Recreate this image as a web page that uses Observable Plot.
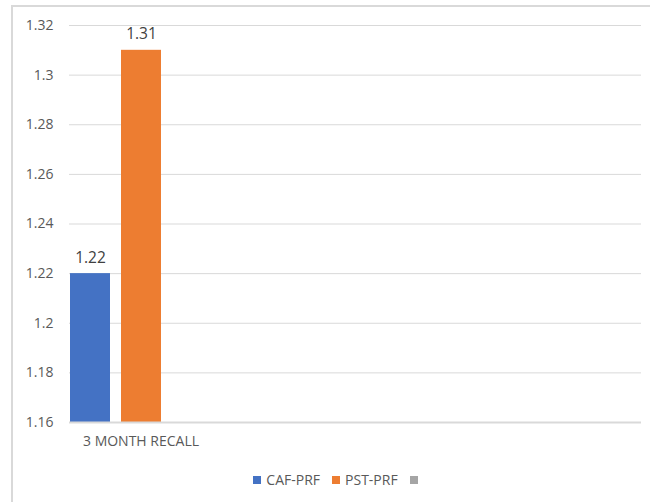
<!DOCTYPE html>
<html>
<head>
<meta charset="utf-8">
<script src="https://cdn.jsdelivr.net/npm/d3@7"></script>
<script src="https://cdn.jsdelivr.net/npm/@observablehq/plot@0.6"></script>
<style>
  html, body { margin: 0; padding: 0; background: #fff; }
  body { width: 650px; height: 502px; position: relative; overflow: hidden; font-family: "Open Sans", sans-serif; }
  #frame { position: absolute; left: 11px; top: 5px; width: 700px; height: 600px; border-top: 2px solid #d9d9d9; border-left: 2px solid #d9d9d9; box-sizing: border-box; }
  #chart { position: absolute; left: 0; top: 0; }
  #legend { position: absolute; left: 0; top: 470px; width: 676px; display: flex; justify-content: center; align-items: center; font-size: 14px; color: #595959; }
  .item { display: flex; align-items: center; margin: 0 6px; }
  .sw { width: 8px; height: 8px; margin-right: 5px; }
</style>
</head>
<body>
<div id="frame"></div>
<div id="chart"></div>
<div id="legend"></div>
<script>
const categories = ["3 MONTH RECALL", " ", "  ", "   "];
const series = ["CAF-PRF", "PST-PRF", ""];
const colors = ["#4472C4", "#ED7D31", "#A5A5A5"];
const caf = [1.22];
const pst = [1.31];
const yTicks = [1.16, 1.18, 1.2, 1.22, 1.24, 1.26, 1.28, 1.3, 1.32];

const data = [];
categories.slice(0, 1).forEach((c, i) => {
  data.push({category: c, series: series[0], value: caf[i]});
  data.push({category: c, series: series[1], value: pst[i]});
});
const grid = categories.flatMap(c => yTicks.map(t => ({category: c, tick: t})));

const yMin = yTicks[0];
const chart = Plot.plot({
  width: 650,
  height: 460,
  marginLeft: 69,
  marginRight: 9,
  marginTop: 25,
  marginBottom: 38,
  style: {fontFamily: "Open Sans, sans-serif", fontSize: "14px", color: "#595959", background: "transparent"},
  fx: {domain: categories, padding: 0, label: null, tickSize: 0, tickPadding: 14, axis: "bottom"},
  x: {domain: series, paddingInner: 0.216, paddingOuter: 0, axis: null},
  y: {domain: [yTicks[0], yTicks[yTicks.length - 1]], ticks: yTicks, tickSize: 0, tickPadding: 16, label: null,
      tickFormat: d => String(+d.toFixed(2))},
  color: {domain: series, range: colors},
  marks: [
    Plot.ruleY(grid, {fx: "category", y: "tick", stroke: "#d9d9d9"}),
    Plot.barY(data, {fx: "category", x: "series", y1: () => yMin, y2: "value", fill: "series"}),
    Plot.text(data, {fx: "category", x: "series", y: "value", text: d => String(d.value), dy: -16, fontSize: 15.5, fill: "#404040"}),
    Plot.ruleY(grid.filter(d => d.tick === yMin), {fx: "category", y: "tick", stroke: "#d9d9d9", strokeWidth: 2})
  ]
});
document.getElementById("chart").appendChild(chart);

const legend = document.getElementById("legend");
series.forEach((s, i) => {
  const item = document.createElement("div");
  item.className = "item";
  const sw = document.createElement("div");
  sw.className = "sw";
  sw.style.background = colors[i];
  item.appendChild(sw);
  if (s) { const t = document.createElement("span"); t.textContent = s; item.appendChild(t); }
  legend.appendChild(item);
});
</script>
</body>
</html>
